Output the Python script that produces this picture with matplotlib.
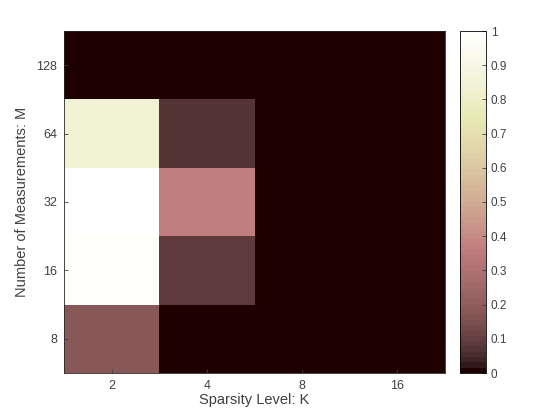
import numpy as np
import matplotlib
matplotlib.use('Agg')
import matplotlib.pyplot as plt

plt.rcParams['font.family'] = ['Liberation Sans', 'DejaVu Sans']

# 数据：恢复成功率
k_labels = ['2', '4', '8', '16']
m_labels = ['8', '16', '32', '64', '128']
row_m8 = [0.18, 0.0, 0.0, 0.0]
row_m16 = [0.98, 0.09, 0.0, 0.0]
row_m32 = [1.0, 0.37, 0.0, 0.0]
row_m64 = [0.84, 0.07, 0.0, 0.0]
row_m128 = [0.0, 0.0, 0.0, 0.0]

Z = np.array([row_m8, row_m16, row_m32, row_m64, row_m128])

txt = '#404040'

fig = plt.figure(figsize=(5.6, 4.2), dpi=100)
ax = fig.add_axes([64/560, 1 - 373/420, (445-64)/560, (373-31)/420])
cax = fig.add_axes([460/560, 1 - 373/420, (486-460)/560, (373-31)/420])

cmap = plt.get_cmap('pink', 64)
mesh = ax.pcolormesh(np.arange(len(k_labels) + 1) + 0.5,
                     np.arange(len(m_labels) + 1) + 0.5,
                     Z, cmap=cmap, vmin=0, vmax=1)

ax.set_xticks(np.arange(1, len(k_labels) + 1))
ax.set_xticklabels(k_labels)
ax.set_yticks(np.arange(1, len(m_labels) + 1))
ax.set_yticklabels(m_labels)
ax.tick_params(direction='in', length=3, labelsize=9, width=0.6, colors=txt, pad=5)
for sp in ax.spines.values():
    sp.set_linewidth(0.6)
    sp.set_color('#262626')
ax.set_xlabel('Sparsity Level: K', fontsize=10.5, color=txt, labelpad=1)
ax.set_ylabel('Number of Measurements: M', fontsize=10.5, color=txt, labelpad=5)

cb = fig.colorbar(mesh, cax=cax)
cb.set_ticks(np.linspace(0, 1, 11))
cb.set_ticklabels(['0', '0.1', '0.2', '0.3', '0.4', '0.5', '0.6', '0.7', '0.8', '0.9', '1'])
cax.tick_params(direction='in', length=3, labelsize=8.5, width=0.6, colors=txt)
cb.outline.set_linewidth(0.6)

plt.savefig('out.png', dpi=100)
